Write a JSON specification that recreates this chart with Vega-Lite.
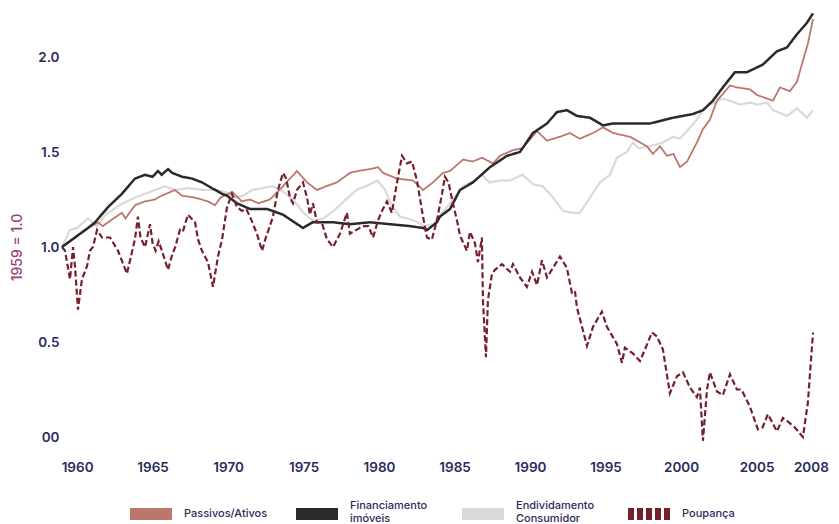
{
  "$schema": "https://vega.github.io/schema/vega-lite/v6.json",
  "autosize": "none",
  "width": 751,
  "height": 456,
  "padding": {"left": 62, "top": 0, "right": 26, "bottom": 68},
  "background": "white",
  "config": {
    "view": {"stroke": null},
    "font": "Inter",
    "axis": {"grid": false, "domain": false, "ticks": false, "labelColor": "#2b2a5c", "labelFontSize": 13.5, "labelFontWeight": 600},
    "legend": {"symbolType": "stroke", "symbolStrokeWidth": 12, "symbolSize": 1764, "labelFontSize": 11, "labelColor": "#2b2a5c", "labelFontWeight": 500, "labelLimit": 200}
  },
  "datasets": {
    "series": [
      {"serie": "Endividamento Consumidor", "ano": 1959.0, "valor": 1.00},
      {"serie": "Endividamento Consumidor", "ano": 1959.53, "valor": 1.09},
      {"serie": "Endividamento Consumidor", "ano": 1960.0, "valor": 1.10},
      {"serie": "Endividamento Consumidor", "ano": 1960.72, "valor": 1.15},
      {"serie": "Endividamento Consumidor", "ano": 1961.3, "valor": 1.11},
      {"serie": "Endividamento Consumidor", "ano": 1961.9, "valor": 1.17},
      {"serie": "Endividamento Consumidor", "ano": 1962.8, "valor": 1.22},
      {"serie": "Endividamento Consumidor", "ano": 1963.83, "valor": 1.26},
      {"serie": "Endividamento Consumidor", "ano": 1964.5, "valor": 1.28},
      {"serie": "Endividamento Consumidor", "ano": 1965.16, "valor": 1.30},
      {"serie": "Endividamento Consumidor", "ano": 1965.82, "valor": 1.32},
      {"serie": "Endividamento Consumidor", "ano": 1966.48, "valor": 1.30},
      {"serie": "Endividamento Consumidor", "ano": 1967.34, "valor": 1.31},
      {"serie": "Endividamento Consumidor", "ano": 1968.47, "valor": 1.30},
      {"serie": "Endividamento Consumidor", "ano": 1969.13, "valor": 1.30},
      {"serie": "Endividamento Consumidor", "ano": 1969.79, "valor": 1.29},
      {"serie": "Endividamento Consumidor", "ano": 1970.5, "valor": 1.26},
      {"serie": "Endividamento Consumidor", "ano": 1971.0, "valor": 1.27},
      {"serie": "Endividamento Consumidor", "ano": 1971.6, "valor": 1.30},
      {"serie": "Endividamento Consumidor", "ano": 1972.3, "valor": 1.31},
      {"serie": "Endividamento Consumidor", "ano": 1972.9, "valor": 1.32},
      {"serie": "Endividamento Consumidor", "ano": 1973.5, "valor": 1.30},
      {"serie": "Endividamento Consumidor", "ano": 1974.3, "valor": 1.25},
      {"serie": "Endividamento Consumidor", "ano": 1975.0, "valor": 1.18},
      {"serie": "Endividamento Consumidor", "ano": 1975.6, "valor": 1.14},
      {"serie": "Endividamento Consumidor", "ano": 1976.3, "valor": 1.15},
      {"serie": "Endividamento Consumidor", "ano": 1977.0, "valor": 1.19},
      {"serie": "Endividamento Consumidor", "ano": 1977.8, "valor": 1.25},
      {"serie": "Endividamento Consumidor", "ano": 1978.5, "valor": 1.30},
      {"serie": "Endividamento Consumidor", "ano": 1979.4, "valor": 1.33},
      {"serie": "Endividamento Consumidor", "ano": 1979.9, "valor": 1.35},
      {"serie": "Endividamento Consumidor", "ano": 1980.4, "valor": 1.30},
      {"serie": "Endividamento Consumidor", "ano": 1980.9, "valor": 1.21},
      {"serie": "Endividamento Consumidor", "ano": 1981.4, "valor": 1.16},
      {"serie": "Endividamento Consumidor", "ano": 1982.3, "valor": 1.14},
      {"serie": "Endividamento Consumidor", "ano": 1983.0, "valor": 1.11},
      {"serie": "Endividamento Consumidor", "ano": 1983.6, "valor": 1.12},
      {"serie": "Endividamento Consumidor", "ano": 1984.2, "valor": 1.18},
      {"serie": "Endividamento Consumidor", "ano": 1985.0, "valor": 1.26},
      {"serie": "Endividamento Consumidor", "ano": 1985.56, "valor": 1.32},
      {"serie": "Endividamento Consumidor", "ano": 1986.3, "valor": 1.35},
      {"serie": "Endividamento Consumidor", "ano": 1986.81, "valor": 1.38},
      {"serie": "Endividamento Consumidor", "ano": 1987.3, "valor": 1.34},
      {"serie": "Endividamento Consumidor", "ano": 1988.01, "valor": 1.35},
      {"serie": "Endividamento Consumidor", "ano": 1988.67, "valor": 1.35},
      {"serie": "Endividamento Consumidor", "ano": 1989.5, "valor": 1.38},
      {"serie": "Endividamento Consumidor", "ano": 1990.19, "valor": 1.33},
      {"serie": "Endividamento Consumidor", "ano": 1990.85, "valor": 1.32},
      {"serie": "Endividamento Consumidor", "ano": 1991.52, "valor": 1.26},
      {"serie": "Endividamento Consumidor", "ano": 1992.18, "valor": 1.19},
      {"serie": "Endividamento Consumidor", "ano": 1992.84, "valor": 1.18},
      {"serie": "Endividamento Consumidor", "ano": 1993.3, "valor": 1.18},
      {"serie": "Endividamento Consumidor", "ano": 1993.97, "valor": 1.26},
      {"serie": "Endividamento Consumidor", "ano": 1994.63, "valor": 1.34},
      {"serie": "Endividamento Consumidor", "ano": 1995.29, "valor": 1.38},
      {"serie": "Endividamento Consumidor", "ano": 1995.75, "valor": 1.47},
      {"serie": "Endividamento Consumidor", "ano": 1996.42, "valor": 1.50},
      {"serie": "Endividamento Consumidor", "ano": 1996.81, "valor": 1.55},
      {"serie": "Endividamento Consumidor", "ano": 1997.2, "valor": 1.52},
      {"serie": "Endividamento Consumidor", "ano": 1997.94, "valor": 1.53},
      {"serie": "Endividamento Consumidor", "ano": 1998.8, "valor": 1.55},
      {"serie": "Endividamento Consumidor", "ano": 1999.46, "valor": 1.58},
      {"serie": "Endividamento Consumidor", "ano": 1999.9, "valor": 1.57},
      {"serie": "Endividamento Consumidor", "ano": 2000.39, "valor": 1.61},
      {"serie": "Endividamento Consumidor", "ano": 2001.05, "valor": 1.67},
      {"serie": "Endividamento Consumidor", "ano": 2001.45, "valor": 1.72},
      {"serie": "Endividamento Consumidor", "ano": 2001.91, "valor": 1.75},
      {"serie": "Endividamento Consumidor", "ano": 2002.77, "valor": 1.78},
      {"serie": "Endividamento Consumidor", "ano": 2003.24, "valor": 1.77},
      {"serie": "Endividamento Consumidor", "ano": 2003.9, "valor": 1.75},
      {"serie": "Endividamento Consumidor", "ano": 2004.56, "valor": 1.76},
      {"serie": "Endividamento Consumidor", "ano": 2005.03, "valor": 1.75},
      {"serie": "Endividamento Consumidor", "ano": 2005.69, "valor": 1.76},
      {"serie": "Endividamento Consumidor", "ano": 2006.1, "valor": 1.72},
      {"serie": "Endividamento Consumidor", "ano": 2007.01, "valor": 1.69},
      {"serie": "Endividamento Consumidor", "ano": 2007.68, "valor": 1.73},
      {"serie": "Endividamento Consumidor", "ano": 2008.34, "valor": 1.68},
      {"serie": "Endividamento Consumidor", "ano": 2008.74, "valor": 1.72},

      {"serie": "Passivos/Ativos", "ano": 1959.0, "valor": 1.00},
      {"serie": "Passivos/Ativos", "ano": 1960.52, "valor": 1.09},
      {"serie": "Passivos/Ativos", "ano": 1961.38, "valor": 1.13},
      {"serie": "Passivos/Ativos", "ano": 1961.7, "valor": 1.11},
      {"serie": "Passivos/Ativos", "ano": 1962.4, "valor": 1.15},
      {"serie": "Passivos/Ativos", "ano": 1962.97, "valor": 1.18},
      {"serie": "Passivos/Ativos", "ano": 1963.2, "valor": 1.15},
      {"serie": "Passivos/Ativos", "ano": 1963.83, "valor": 1.22},
      {"serie": "Passivos/Ativos", "ano": 1964.5, "valor": 1.24},
      {"serie": "Passivos/Ativos", "ano": 1965.16, "valor": 1.25},
      {"serie": "Passivos/Ativos", "ano": 1965.6, "valor": 1.27},
      {"serie": "Passivos/Ativos", "ano": 1966.48, "valor": 1.30},
      {"serie": "Passivos/Ativos", "ano": 1966.95, "valor": 1.27},
      {"serie": "Passivos/Ativos", "ano": 1967.81, "valor": 1.26},
      {"serie": "Passivos/Ativos", "ano": 1968.67, "valor": 1.24},
      {"serie": "Passivos/Ativos", "ano": 1969.13, "valor": 1.22},
      {"serie": "Passivos/Ativos", "ano": 1969.5, "valor": 1.26},
      {"serie": "Passivos/Ativos", "ano": 1970.26, "valor": 1.29},
      {"serie": "Passivos/Ativos", "ano": 1970.92, "valor": 1.24},
      {"serie": "Passivos/Ativos", "ano": 1971.45, "valor": 1.25},
      {"serie": "Passivos/Ativos", "ano": 1972.0, "valor": 1.23},
      {"serie": "Passivos/Ativos", "ano": 1972.77, "valor": 1.25},
      {"serie": "Passivos/Ativos", "ano": 1973.64, "valor": 1.32},
      {"serie": "Passivos/Ativos", "ano": 1974.56, "valor": 1.40},
      {"serie": "Passivos/Ativos", "ano": 1975.23, "valor": 1.34},
      {"serie": "Passivos/Ativos", "ano": 1975.89, "valor": 1.30},
      {"serie": "Passivos/Ativos", "ano": 1976.5, "valor": 1.32},
      {"serie": "Passivos/Ativos", "ano": 1977.21, "valor": 1.34},
      {"serie": "Passivos/Ativos", "ano": 1978.07, "valor": 1.39},
      {"serie": "Passivos/Ativos", "ano": 1978.6, "valor": 1.40},
      {"serie": "Passivos/Ativos", "ano": 1979.4, "valor": 1.41},
      {"serie": "Passivos/Ativos", "ano": 1979.93, "valor": 1.42},
      {"serie": "Passivos/Ativos", "ano": 1980.26, "valor": 1.39},
      {"serie": "Passivos/Ativos", "ano": 1981.19, "valor": 1.36},
      {"serie": "Passivos/Ativos", "ano": 1982.25, "valor": 1.35},
      {"serie": "Passivos/Ativos", "ano": 1982.91, "valor": 1.30},
      {"serie": "Passivos/Ativos", "ano": 1983.57, "valor": 1.34},
      {"serie": "Passivos/Ativos", "ano": 1984.23, "valor": 1.39},
      {"serie": "Passivos/Ativos", "ano": 1984.7, "valor": 1.40},
      {"serie": "Passivos/Ativos", "ano": 1985.56, "valor": 1.46},
      {"serie": "Passivos/Ativos", "ano": 1986.2, "valor": 1.45},
      {"serie": "Passivos/Ativos", "ano": 1986.81, "valor": 1.47},
      {"serie": "Passivos/Ativos", "ano": 1987.54, "valor": 1.44},
      {"serie": "Passivos/Ativos", "ano": 1988.01, "valor": 1.48},
      {"serie": "Passivos/Ativos", "ano": 1988.87, "valor": 1.51},
      {"serie": "Passivos/Ativos", "ano": 1989.5, "valor": 1.52},
      {"serie": "Passivos/Ativos", "ano": 1990.46, "valor": 1.61},
      {"serie": "Passivos/Ativos", "ano": 1991.12, "valor": 1.56},
      {"serie": "Passivos/Ativos", "ano": 1991.98, "valor": 1.58},
      {"serie": "Passivos/Ativos", "ano": 1992.64, "valor": 1.60},
      {"serie": "Passivos/Ativos", "ano": 1993.3, "valor": 1.57},
      {"serie": "Passivos/Ativos", "ano": 1994.17, "valor": 1.60},
      {"serie": "Passivos/Ativos", "ano": 1994.83, "valor": 1.63},
      {"serie": "Passivos/Ativos", "ano": 1995.49, "valor": 1.60},
      {"serie": "Passivos/Ativos", "ano": 1996.62, "valor": 1.58},
      {"serie": "Passivos/Ativos", "ano": 1997.74, "valor": 1.53},
      {"serie": "Passivos/Ativos", "ano": 1998.14, "valor": 1.49},
      {"serie": "Passivos/Ativos", "ano": 1998.6, "valor": 1.53},
      {"serie": "Passivos/Ativos", "ano": 1999.07, "valor": 1.48},
      {"serie": "Passivos/Ativos", "ano": 1999.5, "valor": 1.49},
      {"serie": "Passivos/Ativos", "ano": 1999.93, "valor": 1.42},
      {"serie": "Passivos/Ativos", "ano": 2000.4, "valor": 1.45},
      {"serie": "Passivos/Ativos", "ano": 2001.05, "valor": 1.55},
      {"serie": "Passivos/Ativos", "ano": 2001.45, "valor": 1.62},
      {"serie": "Passivos/Ativos", "ano": 2001.91, "valor": 1.67},
      {"serie": "Passivos/Ativos", "ano": 2002.38, "valor": 1.77},
      {"serie": "Passivos/Ativos", "ano": 2003.24, "valor": 1.85},
      {"serie": "Passivos/Ativos", "ano": 2003.7, "valor": 1.84},
      {"serie": "Passivos/Ativos", "ano": 2004.56, "valor": 1.83},
      {"serie": "Passivos/Ativos", "ano": 2005.03, "valor": 1.80},
      {"serie": "Passivos/Ativos", "ano": 2006.09, "valor": 1.77},
      {"serie": "Passivos/Ativos", "ano": 2006.55, "valor": 1.84},
      {"serie": "Passivos/Ativos", "ano": 2007.21, "valor": 1.82},
      {"serie": "Passivos/Ativos", "ano": 2007.68, "valor": 1.87},
      {"serie": "Passivos/Ativos", "ano": 2008.07, "valor": 1.98},
      {"serie": "Passivos/Ativos", "ano": 2008.4, "valor": 2.07},
      {"serie": "Passivos/Ativos", "ano": 2008.74, "valor": 2.20},

      {"serie": "Financiamento imóveis", "ano": 1959.0, "valor": 1.00},
      {"serie": "Financiamento imóveis", "ano": 1960.72, "valor": 1.10},
      {"serie": "Financiamento imóveis", "ano": 1961.19, "valor": 1.13},
      {"serie": "Financiamento imóveis", "ano": 1962.05, "valor": 1.21},
      {"serie": "Financiamento imóveis", "ano": 1962.97, "valor": 1.28},
      {"serie": "Financiamento imóveis", "ano": 1963.83, "valor": 1.36},
      {"serie": "Financiamento imóveis", "ano": 1964.5, "valor": 1.38},
      {"serie": "Financiamento imóveis", "ano": 1965.0, "valor": 1.37},
      {"serie": "Financiamento imóveis", "ano": 1965.36, "valor": 1.40},
      {"serie": "Financiamento imóveis", "ano": 1965.6, "valor": 1.38},
      {"serie": "Financiamento imóveis", "ano": 1966.02, "valor": 1.41},
      {"serie": "Financiamento imóveis", "ano": 1966.3, "valor": 1.39},
      {"serie": "Financiamento imóveis", "ano": 1966.95, "valor": 1.37},
      {"serie": "Financiamento imóveis", "ano": 1967.61, "valor": 1.36},
      {"serie": "Financiamento imóveis", "ano": 1968.27, "valor": 1.34},
      {"serie": "Financiamento imóveis", "ano": 1968.93, "valor": 1.31},
      {"serie": "Financiamento imóveis", "ano": 1969.6, "valor": 1.28},
      {"serie": "Financiamento imóveis", "ano": 1969.93, "valor": 1.27},
      {"serie": "Financiamento imóveis", "ano": 1970.59, "valor": 1.23},
      {"serie": "Financiamento imóveis", "ano": 1971.45, "valor": 1.20},
      {"serie": "Financiamento imóveis", "ano": 1972.58, "valor": 1.20},
      {"serie": "Financiamento imóveis", "ano": 1973.64, "valor": 1.17},
      {"serie": "Financiamento imóveis", "ano": 1974.96, "valor": 1.10},
      {"serie": "Financiamento imóveis", "ano": 1975.6, "valor": 1.13},
      {"serie": "Financiamento imóveis", "ano": 1976.95, "valor": 1.13},
      {"serie": "Financiamento imóveis", "ano": 1978.07, "valor": 1.12},
      {"serie": "Financiamento imóveis", "ano": 1979.4, "valor": 1.13},
      {"serie": "Financiamento imóveis", "ano": 1980.72, "valor": 1.12},
      {"serie": "Financiamento imóveis", "ano": 1982.05, "valor": 1.11},
      {"serie": "Financiamento imóveis", "ano": 1982.91, "valor": 1.10},
      {"serie": "Financiamento imóveis", "ano": 1983.2, "valor": 1.09},
      {"serie": "Financiamento imóveis", "ano": 1983.83, "valor": 1.13},
      {"serie": "Financiamento imóveis", "ano": 1984.03, "valor": 1.16},
      {"serie": "Financiamento imóveis", "ano": 1984.7, "valor": 1.20},
      {"serie": "Financiamento imóveis", "ano": 1985.36, "valor": 1.30},
      {"serie": "Financiamento imóveis", "ano": 1986.22, "valor": 1.34},
      {"serie": "Financiamento imóveis", "ano": 1987.34, "valor": 1.42},
      {"serie": "Financiamento imóveis", "ano": 1988.47, "valor": 1.48},
      {"serie": "Financiamento imóveis", "ano": 1989.33, "valor": 1.50},
      {"serie": "Financiamento imóveis", "ano": 1990.19, "valor": 1.60},
      {"serie": "Financiamento imóveis", "ano": 1991.12, "valor": 1.65},
      {"serie": "Financiamento imóveis", "ano": 1991.78, "valor": 1.71},
      {"serie": "Financiamento imóveis", "ano": 1992.44, "valor": 1.72},
      {"serie": "Financiamento imóveis", "ano": 1993.11, "valor": 1.69},
      {"serie": "Financiamento imóveis", "ano": 1993.97, "valor": 1.68},
      {"serie": "Financiamento imóveis", "ano": 1994.83, "valor": 1.64},
      {"serie": "Financiamento imóveis", "ano": 1995.49, "valor": 1.65},
      {"serie": "Financiamento imóveis", "ano": 1996.62, "valor": 1.65},
      {"serie": "Financiamento imóveis", "ano": 1997.94, "valor": 1.65},
      {"serie": "Financiamento imóveis", "ano": 1999.46, "valor": 1.68},
      {"serie": "Financiamento imóveis", "ano": 2000.79, "valor": 1.70},
      {"serie": "Financiamento imóveis", "ano": 2001.45, "valor": 1.72},
      {"serie": "Financiamento imóveis", "ano": 2002.11, "valor": 1.77},
      {"serie": "Financiamento imóveis", "ano": 2002.77, "valor": 1.84},
      {"serie": "Financiamento imóveis", "ano": 2003.57, "valor": 1.92},
      {"serie": "Financiamento imóveis", "ano": 2004.36, "valor": 1.92},
      {"serie": "Financiamento imóveis", "ano": 2005.42, "valor": 1.96},
      {"serie": "Financiamento imóveis", "ano": 2006.35, "valor": 2.03},
      {"serie": "Financiamento imóveis", "ano": 2007.01, "valor": 2.05},
      {"serie": "Financiamento imóveis", "ano": 2007.68, "valor": 2.12},
      {"serie": "Financiamento imóveis", "ano": 2008.34, "valor": 2.18},
      {"serie": "Financiamento imóveis", "ano": 2008.74, "valor": 2.23},

      {"serie": "Poupança", "ano": 1959.0, "valor": 1.00},
      {"serie": "Poupança", "ano": 1959.2, "valor": 0.98},
      {"serie": "Poupança", "ano": 1959.53, "valor": 0.83},
      {"serie": "Poupança", "ano": 1959.73, "valor": 1.00},
      {"serie": "Poupança", "ano": 1959.86, "valor": 0.90},
      {"serie": "Poupança", "ano": 1960.06, "valor": 0.67},
      {"serie": "Poupança", "ano": 1960.32, "valor": 0.83},
      {"serie": "Poupança", "ano": 1960.66, "valor": 0.90},
      {"serie": "Poupança", "ano": 1960.85, "valor": 0.98},
      {"serie": "Poupança", "ano": 1961.05, "valor": 1.00},
      {"serie": "Poupança", "ano": 1961.32, "valor": 1.09},
      {"serie": "Poupança", "ano": 1961.65, "valor": 1.05},
      {"serie": "Poupança", "ano": 1962.18, "valor": 1.05},
      {"serie": "Poupança", "ano": 1962.71, "valor": 0.98},
      {"serie": "Poupança", "ano": 1963.3, "valor": 0.86},
      {"serie": "Poupança", "ano": 1963.83, "valor": 1.04},
      {"serie": "Poupança", "ano": 1964.03, "valor": 1.16},
      {"serie": "Poupança", "ano": 1964.2, "valor": 1.05},
      {"serie": "Poupança", "ano": 1964.5, "valor": 1.00},
      {"serie": "Poupança", "ano": 1964.83, "valor": 1.12},
      {"serie": "Poupança", "ano": 1965.0, "valor": 1.02},
      {"serie": "Poupança", "ano": 1965.2, "valor": 0.98},
      {"serie": "Poupança", "ano": 1965.4, "valor": 1.03},
      {"serie": "Poupança", "ano": 1965.62, "valor": 0.98},
      {"serie": "Poupança", "ano": 1966.02, "valor": 0.88},
      {"serie": "Poupança", "ano": 1966.3, "valor": 0.96},
      {"serie": "Poupança", "ano": 1966.5, "valor": 1.00},
      {"serie": "Poupança", "ano": 1966.81, "valor": 1.09},
      {"serie": "Poupança", "ano": 1967.0, "valor": 1.08},
      {"serie": "Poupança", "ano": 1967.34, "valor": 1.17},
      {"serie": "Poupança", "ano": 1967.81, "valor": 1.13},
      {"serie": "Poupança", "ano": 1968.01, "valor": 1.04},
      {"serie": "Poupança", "ano": 1968.27, "valor": 0.98},
      {"serie": "Poupança", "ano": 1968.67, "valor": 0.92},
      {"serie": "Poupança", "ano": 1969.0, "valor": 0.79},
      {"serie": "Poupança", "ano": 1969.33, "valor": 0.95},
      {"serie": "Poupança", "ano": 1969.6, "valor": 1.04},
      {"serie": "Poupança", "ano": 1969.93, "valor": 1.21},
      {"serie": "Poupança", "ano": 1970.26, "valor": 1.28},
      {"serie": "Poupança", "ano": 1970.59, "valor": 1.21},
      {"serie": "Poupança", "ano": 1970.92, "valor": 1.19},
      {"serie": "Poupança", "ano": 1971.2, "valor": 1.20},
      {"serie": "Poupança", "ano": 1971.45, "valor": 1.16},
      {"serie": "Poupança", "ano": 1971.91, "valor": 1.07},
      {"serie": "Poupança", "ano": 1972.25, "valor": 0.98},
      {"serie": "Poupança", "ano": 1972.5, "valor": 1.05},
      {"serie": "Poupança", "ano": 1972.77, "valor": 1.11},
      {"serie": "Poupança", "ano": 1972.97, "valor": 1.16},
      {"serie": "Poupança", "ano": 1973.3, "valor": 1.30},
      {"serie": "Poupança", "ano": 1973.64, "valor": 1.39},
      {"serie": "Poupança", "ano": 1973.85, "valor": 1.36},
      {"serie": "Poupança", "ano": 1974.1, "valor": 1.26},
      {"serie": "Poupança", "ano": 1974.3, "valor": 1.23},
      {"serie": "Poupança", "ano": 1974.56, "valor": 1.30},
      {"serie": "Poupança", "ano": 1974.96, "valor": 1.34},
      {"serie": "Poupança", "ano": 1975.23, "valor": 1.26},
      {"serie": "Poupança", "ano": 1975.42, "valor": 1.17},
      {"serie": "Poupança", "ano": 1975.62, "valor": 1.23},
      {"serie": "Poupança", "ano": 1975.89, "valor": 1.13},
      {"serie": "Poupança", "ano": 1976.2, "valor": 1.13},
      {"serie": "Poupança", "ano": 1976.55, "valor": 1.04},
      {"serie": "Poupança", "ano": 1976.95, "valor": 1.00},
      {"serie": "Poupança", "ano": 1977.41, "valor": 1.07},
      {"serie": "Poupança", "ano": 1977.87, "valor": 1.18},
      {"serie": "Poupança", "ano": 1978.07, "valor": 1.07},
      {"serie": "Poupança", "ano": 1978.5, "valor": 1.09},
      {"serie": "Poupança", "ano": 1978.93, "valor": 1.11},
      {"serie": "Poupança", "ano": 1979.3, "valor": 1.11},
      {"serie": "Poupança", "ano": 1979.6, "valor": 1.05},
      {"serie": "Poupança", "ano": 1979.93, "valor": 1.14},
      {"serie": "Poupança", "ano": 1980.19, "valor": 1.19},
      {"serie": "Poupança", "ano": 1980.52, "valor": 1.24},
      {"serie": "Poupança", "ano": 1980.85, "valor": 1.18},
      {"serie": "Poupança", "ano": 1981.19, "valor": 1.34},
      {"serie": "Poupança", "ano": 1981.52, "valor": 1.48},
      {"serie": "Poupança", "ano": 1981.85, "valor": 1.44},
      {"serie": "Poupança", "ano": 1982.18, "valor": 1.45},
      {"serie": "Poupança", "ano": 1982.51, "valor": 1.35},
      {"serie": "Poupança", "ano": 1982.91, "valor": 1.16},
      {"serie": "Poupança", "ano": 1983.17, "valor": 1.05},
      {"serie": "Poupança", "ano": 1983.5, "valor": 1.04},
      {"serie": "Poupança", "ano": 1983.83, "valor": 1.14},
      {"serie": "Poupança", "ano": 1984.17, "valor": 1.28},
      {"serie": "Poupança", "ano": 1984.36, "valor": 1.37},
      {"serie": "Poupança", "ano": 1984.6, "valor": 1.34},
      {"serie": "Poupança", "ano": 1984.89, "valor": 1.23},
      {"serie": "Poupança", "ano": 1985.16, "valor": 1.14},
      {"serie": "Poupança", "ano": 1985.36, "valor": 1.06},
      {"serie": "Poupança", "ano": 1985.82, "valor": 0.98},
      {"serie": "Poupança", "ano": 1986.02, "valor": 1.08},
      {"serie": "Poupança", "ano": 1986.35, "valor": 1.02},
      {"serie": "Poupança", "ano": 1986.55, "valor": 0.92},
      {"serie": "Poupança", "ano": 1986.81, "valor": 1.05},
      {"serie": "Poupança", "ano": 1986.88, "valor": 0.72},
      {"serie": "Poupança", "ano": 1987.08, "valor": 0.42},
      {"serie": "Poupança", "ano": 1987.21, "valor": 0.72},
      {"serie": "Poupança", "ano": 1987.48, "valor": 0.86},
      {"serie": "Poupança", "ano": 1987.68, "valor": 0.88},
      {"serie": "Poupança", "ano": 1988.14, "valor": 0.91},
      {"serie": "Poupança", "ano": 1988.67, "valor": 0.87},
      {"serie": "Poupança", "ano": 1988.87, "valor": 0.91},
      {"serie": "Poupança", "ano": 1989.33, "valor": 0.84},
      {"serie": "Poupança", "ano": 1989.79, "valor": 0.79},
      {"serie": "Poupança", "ano": 1990.13, "valor": 0.87},
      {"serie": "Poupança", "ano": 1990.46, "valor": 0.80},
      {"serie": "Poupança", "ano": 1990.79, "valor": 0.93},
      {"serie": "Poupança", "ano": 1991.12, "valor": 0.84},
      {"serie": "Poupança", "ano": 1991.52, "valor": 0.89},
      {"serie": "Poupança", "ano": 1991.98, "valor": 0.95},
      {"serie": "Poupança", "ano": 1992.44, "valor": 0.89},
      {"serie": "Poupança", "ano": 1992.77, "valor": 0.76},
      {"serie": "Poupança", "ano": 1992.97, "valor": 0.77},
      {"serie": "Poupança", "ano": 1993.11, "valor": 0.68},
      {"serie": "Poupança", "ano": 1993.77, "valor": 0.48},
      {"serie": "Poupança", "ano": 1994.17, "valor": 0.58},
      {"serie": "Poupança", "ano": 1994.76, "valor": 0.66},
      {"serie": "Poupança", "ano": 1995.09, "valor": 0.58},
      {"serie": "Poupança", "ano": 1995.75, "valor": 0.49},
      {"serie": "Poupança", "ano": 1996.09, "valor": 0.39},
      {"serie": "Poupança", "ano": 1996.28, "valor": 0.47},
      {"serie": "Poupança", "ano": 1996.81, "valor": 0.44},
      {"serie": "Poupança", "ano": 1997.28, "valor": 0.40},
      {"serie": "Poupança", "ano": 1997.61, "valor": 0.46},
      {"serie": "Poupança", "ano": 1998.07, "valor": 0.55},
      {"serie": "Poupança", "ano": 1998.4, "valor": 0.53},
      {"serie": "Poupança", "ano": 1998.8, "valor": 0.46},
      {"serie": "Poupança", "ano": 1999.26, "valor": 0.23},
      {"serie": "Poupança", "ano": 1999.73, "valor": 0.32},
      {"serie": "Poupança", "ano": 2000.13, "valor": 0.34},
      {"serie": "Poupança", "ano": 2000.59, "valor": 0.26},
      {"serie": "Poupança", "ano": 2001.05, "valor": 0.21},
      {"serie": "Poupança", "ano": 2001.25, "valor": 0.26},
      {"serie": "Poupança", "ano": 2001.45, "valor": -0.02},
      {"serie": "Poupança", "ano": 2001.72, "valor": 0.25},
      {"serie": "Poupança", "ano": 2001.91, "valor": 0.34},
      {"serie": "Poupança", "ano": 2002.38, "valor": 0.24},
      {"serie": "Poupança", "ano": 2002.77, "valor": 0.22},
      {"serie": "Poupança", "ano": 2003.24, "valor": 0.33},
      {"serie": "Poupança", "ano": 2003.7, "valor": 0.25},
      {"serie": "Poupança", "ano": 2004.0, "valor": 0.25},
      {"serie": "Poupança", "ano": 2004.56, "valor": 0.16},
      {"serie": "Poupança", "ano": 2005.09, "valor": 0.04},
      {"serie": "Poupança", "ano": 2005.4, "valor": 0.05},
      {"serie": "Poupança", "ano": 2005.75, "valor": 0.12},
      {"serie": "Poupança", "ano": 2006.35, "valor": 0.03},
      {"serie": "Poupança", "ano": 2006.75, "valor": 0.10},
      {"serie": "Poupança", "ano": 2007.1, "valor": 0.08},
      {"serie": "Poupança", "ano": 2007.54, "valor": 0.05},
      {"serie": "Poupança", "ano": 2008.07, "valor": 0.00},
      {"serie": "Poupança", "ano": 2008.4, "valor": 0.18},
      {"serie": "Poupança", "ano": 2008.74, "valor": 0.55}
    ]
  },
  "data": {"name": "series"},
  "encoding": {
    "x": {
      "field": "ano", "type": "quantitative",
      "scale": {"domain": [1959, 2008.74], "nice": false, "zero": false},
      "axis": {
        "title": null,
        "values": [1960, 1965, 1970, 1975, 1980, 1985, 1990, 1995, 2000, 2005, 2008.6],
        "labelExpr": "datum.value > 2008 ? '2008' : format(datum.value, 'd')",
        "labelPadding": 4
      }
    },
    "y": {
      "field": "valor", "type": "quantitative",
      "scale": {"domain": [-0.1, 2.3], "nice": false, "zero": false},
      "axis": {
        "title": "1959 = 1.0",
        "titleColor": "#9e3e7c",
        "titleFontSize": 14,
        "titleFontWeight": 500,
        "titleX": -45,
        "titleY": 247,
        "titleAngle": -90,
        "titleAlign": "center",
        "titleBaseline": "middle",
        "values": [0, 0.5, 1, 1.5, 2],
        "labelExpr": "datum.value == 0 ? '00' : format(datum.value, '.1f')",
        "labelPadding": 3
      }
    },
    "color": {
      "field": "serie", "type": "nominal",
      "scale": {
        "domain": ["Passivos/Ativos", "Financiamento imóveis", "Endividamento Consumidor", "Poupança"],
        "range": ["#bc776d", "#2a2a2a", "#d9d9d9", "#74202d"]
      },
      "legend": {
        "title": null,
        "orient": "none",
        "direction": "horizontal",
        "columns": 4,
        "gridAlign": "all",
        "columnPadding": 4,
        "legendX": 62,
        "legendY": 487,
        "labelOffset": 6,
        "labelExpr": "datum.label == 'Financiamento imóveis' ? ['Financiamento', 'imóveis'] : datum.label == 'Endividamento Consumidor' ? ['Endividamento', 'Consumidor'] : datum.label",
        "encode": {
          "labels": {
            "update": {
              "dy": {"signal": "indexof(datum.label, ' ') >= 0 ? -8 : 0"},
              "lineHeight": {"value": 13}
            }
          }
        }
      }
    },
    "strokeDash": {
      "field": "serie", "type": "nominal",
      "scale": {
        "domain": ["Passivos/Ativos", "Financiamento imóveis", "Endividamento Consumidor", "Poupança"],
        "range": [[1, 0], [1, 0], [1, 0], [6, 3]]
      },
      "legend": null
    }
  },
  "layer": [
    {"transform": [{"filter": "datum.serie == 'Endividamento Consumidor'"}], "mark": {"type": "line", "strokeWidth": 2.2}},
    {"transform": [{"filter": "datum.serie == 'Passivos/Ativos'"}], "mark": {"type": "line", "strokeWidth": 1.8}},
    {"transform": [{"filter": "datum.serie == 'Financiamento imóveis'"}], "mark": {"type": "line", "strokeWidth": 2.5}},
    {"transform": [{"filter": "datum.serie == 'Poupança'"}], "mark": {"type": "line", "strokeWidth": 2.2}}
  ]
}
